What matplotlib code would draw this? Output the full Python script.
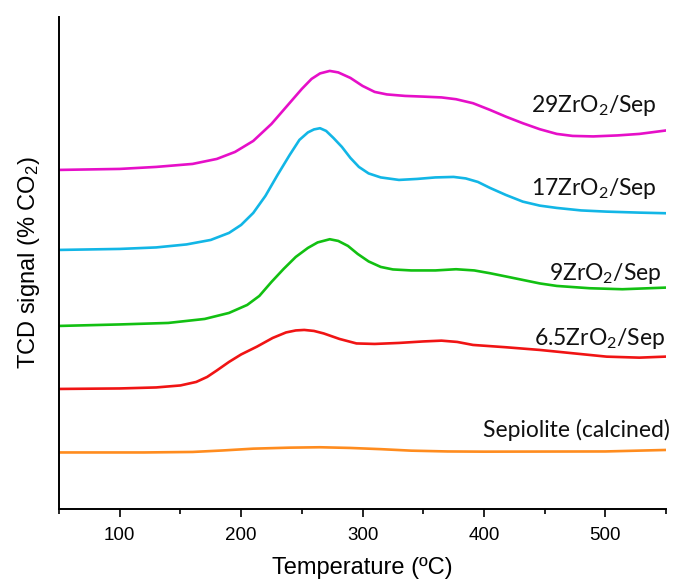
import matplotlib
matplotlib.use('Agg')
from matplotlib import pyplot as plt
from matplotlib.ticker import MultipleLocator

plt.rcParams['font.family'] = ['Liberation Sans', 'DejaVu Sans']
plt.rcParams['mathtext.default'] = 'regular'

# TPD-CO2 curves (signal in arbitrary units)
t_29 = [50, 100, 130, 160, 180, 195, 210, 225, 240, 250, 258, 265, 273, 280, 290, 300,
        310, 320, 335, 350, 365, 377, 391, 405, 418, 432, 446, 460, 473, 490, 510, 528, 549]
s_29 = [339, 340, 342, 345, 350, 357, 368, 385, 406, 420, 430, 435.5, 438, 436.5, 431, 423,
        417, 414.5, 413, 412.3, 411.5, 409.7, 405.7, 399, 392.3, 385.7, 379.7, 375, 373,
        372.5, 373.5, 375, 378.3]

t_17 = [50, 100, 130, 155, 175, 190, 200, 210, 220, 230, 240, 248, 255, 260, 265, 270,
        276, 283, 290, 297, 305, 315, 330, 345, 360, 375, 385, 395, 405, 418, 432, 446,
        460, 480, 501, 528, 549]
s_17 = [259, 260, 261.5, 264.5, 269, 276, 284, 296, 313, 334, 354, 369, 376.5, 379.5,
        380.7, 378, 371, 362, 351, 342, 335.5, 331.5, 329, 330, 331.5, 332, 330.5, 327,
        321, 314, 307.3, 303.3, 301, 298.5, 297.3, 296.3, 295.7]

t_9 = [50, 100, 140, 170, 190, 205, 215, 225, 235, 245, 255, 263, 273, 280, 288, 296,
       305, 315, 325, 340, 360, 377, 392, 405, 420, 432, 446, 460, 487, 514, 549]
s_9 = [183, 184.5, 186, 190, 196, 204, 213, 227, 240, 252, 261, 266.5, 269.7, 268, 263,
       255, 247.5, 242, 239.5, 238.5, 238.5, 239.7, 238.5, 235.7, 232, 229, 225.5, 223,
       220.7, 219.7, 221.3]

t_65 = [50, 100, 130, 150, 163, 172, 180, 190, 200, 213, 226, 237, 245, 252, 260, 268,
        281, 295, 310, 330, 350, 365, 378, 391, 418, 446, 473, 501, 528, 549]
s_65 = [120, 120.5, 121.5, 123.5, 127, 132, 138.5, 147, 154.5, 162.3, 171, 176.5, 178.5,
        179, 178, 175.5, 170, 165.5, 165, 166, 167.5, 168.3, 167, 164, 161.7, 159, 155.7,
        152.3, 151.3, 152.3]

t_sep = [50, 120, 160, 185, 210, 240, 265, 290, 315, 340, 370, 400, 500, 550]
s_sep = [56.5, 56.5, 57, 58.5, 60.3, 61.3, 61.7, 61, 59.8, 58.3, 57.5, 57.3, 57.5, 59]

labels = ['29ZrO$_2$/Sep', '17ZrO$_2$/Sep', '9ZrO$_2$/Sep', '6.5ZrO$_2$/Sep',
          'Sepiolite (calcined)']
colors = ['#E60FC8', '#12B6E6', '#12C012', '#F01414', '#FF8C1E']

fig = plt.figure(figsize=(6.76, 5.83), dpi=100)
ax = fig.add_axes([0.0873, 0.127, 0.898, 0.844])

series = [(t_29, s_29), (t_17, s_17), (t_9, s_9), (t_65, s_65), (t_sep, s_sep)]
for (t, s), c in zip(series, colors):
    ax.plot(t, s, color=c, lw=1.9)

# curve labels (right aligned, on baseline)
label_pos = [(542, 397), (542, 314), (546, 229), (549, 164), (553, 72)]
for (x, y), txt in zip(label_pos, labels):
    ax.text(x, y, txt, ha='right', va='baseline', fontsize=16.5, family='Lato',
            color='#111111')

ax.set_xlim(50, 550)
ax.set_ylim(0, 492)
ax.spines['top'].set_visible(False)
ax.spines['right'].set_visible(False)
for sp in ['left', 'bottom']:
    ax.spines[sp].set_linewidth(1.4)
ax.set_yticks([])
ax.xaxis.set_major_locator(MultipleLocator(100))
ax.xaxis.set_minor_locator(MultipleLocator(50))
ax.tick_params(axis='x', which='major', length=6, width=1.2, pad=7, labelsize=13.5)
ax.tick_params(axis='x', which='minor', length=3.5, width=1.2)

ax.set_xlabel('Temperature (ºC)', fontsize=17, labelpad=9)
ax.set_ylabel('TCD signal (% CO$_2$)', fontsize=17, labelpad=12)

fig.savefig('out.png', dpi=100)
